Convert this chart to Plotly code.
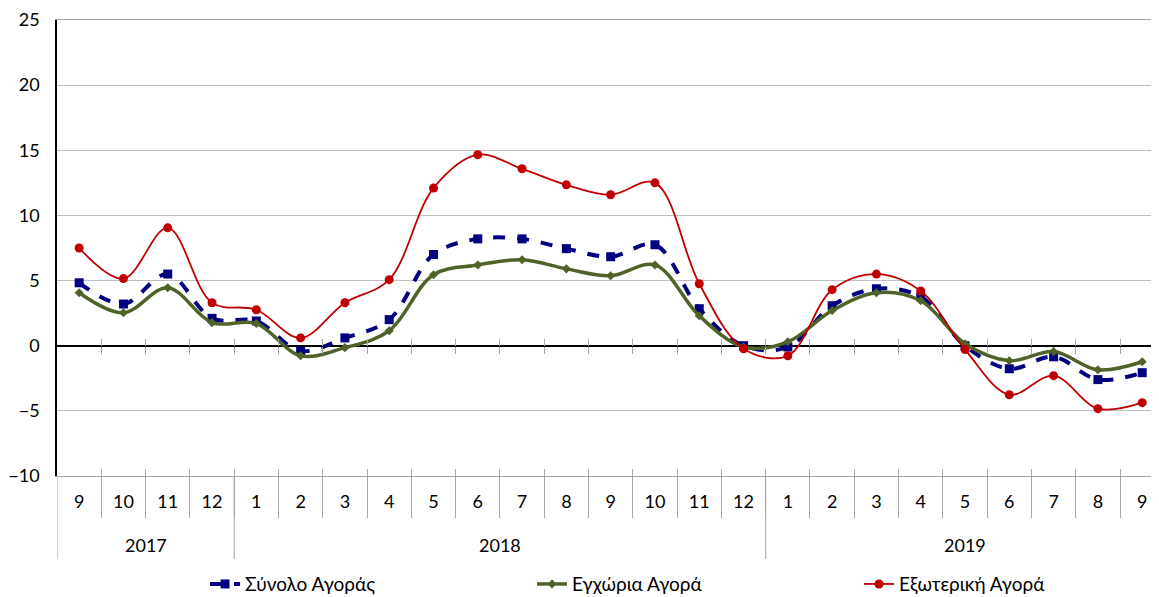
import plotly.graph_objects as go

years = ["2017"] * 4 + ["2018"] * 12 + ["2019"] * 9
months = ["9", "10", "11", "12", "1", "2", "3", "4", "5", "6", "7", "8", "9", "10", "11", "12",
          "1", "2", "3", "4", "5", "6", "7", "8", "9"]

total_market = [4.83, 3.2, 5.5, 2.1, 1.9, -0.4, 0.6, 2.0, 7.0, 8.2, 8.2, 7.45, 6.83, 7.75, 2.84, 0.0,
                -0.1, 3.07, 4.37, 3.76, 0.0, -1.77, -0.85, -2.6, -2.07]
domestic_market = [4.07, 2.53, 4.45, 1.77, 1.7, -0.77, -0.15, 1.15, 5.45, 6.2, 6.6, 5.9, 5.37, 6.2, 2.3, -0.1,
                   0.3, 2.7, 4.07, 3.45, 0.15, -1.15, -0.45, -1.85, -1.23]
foreign_market = [7.5, 5.15, 9.05, 3.3, 2.76, 0.6, 3.3, 5.07, 12.1, 14.66, 13.58, 12.35, 11.59, 12.5, 4.76, -0.23,
                  -0.77, 4.3, 5.5, 4.2, -0.3, -3.76, -2.3, -4.83, -4.37]

names = ["Σύνολο Αγοράς", "Εγχώρια Αγορά", "Εξωτερική Αγορά"]

FONT = "Lato"
GRID = "#BFBFBF"
TICK = "#A6A6A6"
TFS = 18

n = len(months)
idx = list(range(n))
xr = [-0.5, n - 0.44]
bounds = [i + 0.5 for i in range(n - 1)]

# year groups
groups = []
for i, yv in enumerate(years):
    if not groups or groups[-1][0] != yv:
        groups.append([yv, i, i])
    else:
        groups[-1][2] = i

fig = go.Figure()
fig.add_trace(go.Scatter(
    x=idx, y=total_market, name=names[0], mode="lines+markers",
    line=dict(color="#000080", width=4, dash="dash", shape="spline", smoothing=1.0),
    marker=dict(symbol="square", size=9, color="#000080"),
))
fig.add_trace(go.Scatter(
    x=idx, y=domestic_market, name=names[1], mode="lines+markers",
    line=dict(color="#4F6228", width=3.5, shape="spline", smoothing=1.0),
    marker=dict(symbol="diamond", size=7, color="#4F6228"),
))
fig.add_trace(go.Scatter(
    x=idx, y=foreign_market, name=names[2], mode="lines+markers",
    line=dict(color="#C00000", width=1.8, shape="spline", smoothing=1.0),
    marker=dict(symbol="circle", size=9, color="#C00000"),
))

ymin, ymax = -10, 25
zero_pos = (0 - ymin) / (ymax - ymin)
M_T, M_B, M_L = 12, 129, 49
plot_h = 597 - M_T - M_B

tick_axis = dict(type="linear", range=xr, overlaying="x", anchor="free",
                 tickvals=bounds, showticklabels=False, showgrid=False, zeroline=False,
                 showline=False, tickcolor=TICK, tickwidth=1, automargin=False)

shapes = []
annotations = []
for yv, a, b in groups:
    shapes.append(dict(type="line", xref="x", yref="paper", x0=a - 0.5, x1=a - 0.5,
                       y0=0, y1=-83 / plot_h, line=dict(color=TICK, width=1)))
    annotations.append(dict(text=yv, xref="x", yref="paper", x=(a + b) / 2, y=-69 / plot_h,
                            yanchor="middle", xanchor="center", showarrow=False,
                            font=dict(family=FONT, size=TFS, color="#000000")))
shapes.append(dict(type="line", xref="x", yref="paper", x0=groups[-1][2] + 0.5, x1=groups[-1][2] + 0.5,
                   y0=0, y1=-83 / plot_h, line=dict(color=TICK, width=1)))

fig.update_layout(
    width=1159, height=597,
    paper_bgcolor="white", plot_bgcolor="white",
    margin=dict(l=M_L, r=0, t=M_T, b=M_B),
    font=dict(family=FONT, size=TFS, color="#000000"),
    showlegend=True,
    legend=dict(orientation="h", xref="container", yref="container",
                x=0.17, xanchor="left", y=0.035, yanchor="middle",
                entrywidthmode="pixels", entrywidth=282,
                font=dict(family=FONT, size=19), traceorder="normal"),
    xaxis=dict(type="linear", range=xr, tickvals=idx, ticktext=months,
               showgrid=False, zeroline=False, automargin=False,
               showline=True, linecolor=TICK, linewidth=1, mirror=True,
               ticks="", ticklabelstandoff=9,
               tickfont=dict(family=FONT, size=TFS, color="#000000")),
    xaxis2=dict(position=zero_pos, ticks="outside", ticklen=7, **tick_axis),
    xaxis3=dict(position=zero_pos, ticks="inside", ticklen=7, **tick_axis),
    xaxis4=dict(position=0, ticks="outside", ticklen=41, **tick_axis),
    xaxis5=dict(position=0, ticks="inside", ticklen=7, **tick_axis),
    yaxis=dict(range=[ymin, ymax], dtick=5, showgrid=True, gridcolor=GRID, gridwidth=1,
               zeroline=True, zerolinecolor="#000000", zerolinewidth=1.5,
               showline=True, linecolor="#000000", linewidth=1.5, automargin=False,
               ticks="", ticklabelstandoff=12,
               tickfont=dict(family=FONT, size=TFS, color="#000000")),
    shapes=shapes,
    annotations=annotations,
)

for ax in ["x2", "x3", "x4", "x5"]:
    fig.add_trace(go.Scatter(x=[xr[0]], y=[ymin], xaxis=ax, mode="markers",
                             marker=dict(opacity=0), showlegend=False, hoverinfo="skip"))

fig.write_html("out.html")
